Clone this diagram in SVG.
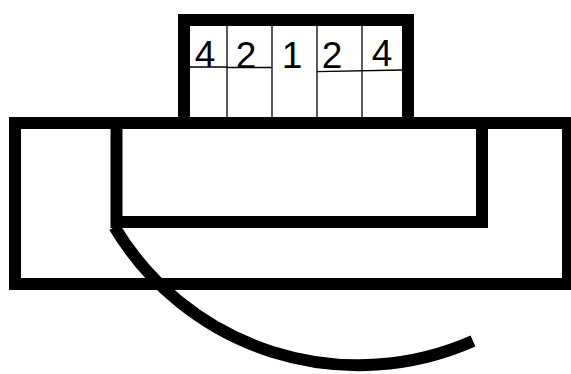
<svg xmlns="http://www.w3.org/2000/svg" width="571" height="374" viewBox="0 0 571 374">
<style>
.thick{fill:none;stroke:#000;stroke-width:12}
.thin{fill:none;stroke:#000;stroke-width:1.3}
.d{font-family:"Liberation Sans",Arial,sans-serif;font-size:37px;fill:#000;text-anchor:middle}
</style>
<rect width="571" height="374" fill="#fff"/>
<g id="outer-frame">
<rect class="thick" x="15" y="123" width="553" height="161"/>
</g>
<g id="inner-frame">
<rect class="thick" x="116.5" y="123" width="365.5" height="99"/>
</g>
<g id="plug">
<rect class="thick" x="184" y="20" width="224" height="103"/>
<line class="thin" x1="227" y1="26" x2="227" y2="117"/>
<line class="thin" x1="272" y1="26" x2="272" y2="117"/>
<line class="thin" x1="317" y1="26" x2="317" y2="117"/>
<line class="thin" x1="362" y1="26" x2="362" y2="117"/>
<line class="thin" x1="190" y1="67" x2="227" y2="67"/>
<line class="thin" x1="227" y1="67.5" x2="272" y2="67.5"/>
<line class="thin" x1="317" y1="71.7" x2="402" y2="70"/>
<text class="d" x="205" y="67">4</text>
<text class="d" x="246" y="68">2</text>
<text class="d" x="292" y="68">1</text>
<text class="d" x="332" y="68">2</text>
<text class="d" x="382" y="66">4</text>
</g>
<g id="connectors">
<path class="thick" d="M114.5,227 A284 284 0 0 0 473,341"/>
</g>
</svg>
